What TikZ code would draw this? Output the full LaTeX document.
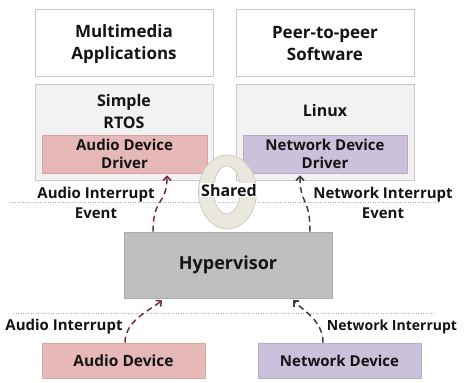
\documentclass[tikz,border=0pt]{standalone}
\usepackage{fontspec}
\setmainfont{Open Sans}
\usetikzlibrary{arrows.meta,shadows,calc}
\definecolor{boxline}{HTML}{C8C8C8}
\definecolor{osfill}{HTML}{F2F2F2}
\definecolor{pinkfill}{HTML}{E6B9B8}
\definecolor{pinkline}{HTML}{D9A3A2}
\definecolor{lavfill}{HTML}{CCC1DA}
\definecolor{lavline}{HTML}{B8ABC9}
\definecolor{hypfill}{HTML}{BFBFBF}
\definecolor{audarrow}{HTML}{7A2C3C}
\definecolor{netarrow}{HTML}{3E3E4C}
\definecolor{dotline}{HTML}{A4AECA}
\definecolor{ringfill}{HTML}{EAE8DE}
\definecolor{ringline}{HTML}{CFCCC0}
\tikzset{
  txt/.style={font=\bfseries\fontsize{15}{18}\selectfont, align=center, inner sep=0pt, text=black!92},
  apptxt/.style={txt, font=\bfseries\fontsize{17}{22}\selectfont},
  ostxt/.style={txt, font=\bfseries\fontsize{16}{22}\selectfont},
  labtxt/.style={txt, font=\bfseries\fontsize{15}{20}\selectfont},
  boxbase/.style={draw=boxline, line width=0.8pt, inner sep=0pt,
     drop shadow={shadow xshift=0.8pt, shadow yshift=-1.2pt, opacity=0.25, fill=black}},
  appbox/.style={boxbase, fill=white, minimum width=178pt, minimum height=67pt},
  osbox/.style={boxbase, fill=osfill, minimum width=178pt, minimum height=96pt},
  drvpink/.style={boxbase, draw=pinkline, fill=pinkfill, minimum width=165pt, minimum height=38pt},
  drvlav/.style={boxbase, draw=lavline, fill=lavfill, minimum width=164pt, minimum height=38pt},
  hypbox/.style={fill=hypfill, draw=hypfill!90!black, line width=0.6pt, minimum width=208pt, minimum height=66pt,
     drop shadow={shadow xshift=0.8pt, shadow yshift=-1.2pt, opacity=0.25, fill=black}},
  devpink/.style={boxbase, draw=pinkline, fill=pinkfill, minimum width=163pt, minimum height=35pt},
  devlav/.style={boxbase, draw=lavline, fill=lavfill, minimum width=163pt, minimum height=35pt},
  audarr/.style={draw=audarrow, line width=1.5pt, dash pattern=on 6pt off 4pt, -{Straight Barb[length=4pt,width=8pt]}},
  netarr/.style={audarr, draw=netarrow},
  sep/.style={draw=dotline, line width=0.9pt, dash pattern=on 1pt off 1.5pt}
}
\begin{document}
\begin{tikzpicture}[x=1pt,y=-1pt]
\useasboundingbox (0,0) rectangle (464,383);
% separators
\draw[sep] (10,202) coordinate (s1a) -- (440,202) coordinate (s1b);
\draw[sep] (13,313) coordinate (s2a) -- (434,313) coordinate (s2b);
% top boxes
\node[appbox] (app1) at (124,42.5) {};
\node[apptxt] (app1t) at (124,44) {Multimedia\\Applications};
\node[appbox] (app2) at (325,42.5) {};
\node[apptxt] (app2t) at (325,44) {Peer-to-peer\\Software};
% OS boxes
\node[osbox] (os1) at (124,132) {};
\node[ostxt] (os1t) at (124,111) {Simple\\RTOS};
\node[osbox] (os2) at (325,132) {};
\node[ostxt] (os2t) at (325,110) {Linux};
\node[drvpink, txt] (drv1) at (124.5,154) {Audio Device\\Driver};
\node[drvlav, txt] (drv2) at (325,154) {Network Device\\Driver};
% hypervisor
\node[hypbox, txt, font=\bfseries\fontsize{18}{20}\selectfont] (hyp) at (228,265) {Hypervisor};
% devices
\node[devpink, txt, font=\bfseries\fontsize{15.5}{18}\selectfont] (dev1) at (123.5,360.5) {Audio Device};
\node[devlav, txt] (dev2) at (339.5,360.5) {Network Device};
% shared ring
\path[fill=ringfill, draw=ringline, line width=0.8pt, even odd rule]
  (227.5,192) ellipse [x radius=29, y radius=37]
  (227,190) ellipse [x radius=13.5, y radius=24];
\node[txt, font=\bfseries\fontsize{16}{18}\selectfont, fill=white, inner xsep=1.5pt, inner ysep=1pt] (shared) at (229,190) {Shared};
% labels
\node[labtxt] (l1) at (96,203) {Audio Interrupt\\Event};
\node[labtxt] (l2) at (383,203) {Network Interrupt\\Event};
\node[labtxt] (l3) at (64,327) {Audio Interrupt};
\node[labtxt, font=\bfseries\fontsize{14}{18}\selectfont] (l4) at (392,327) {Network Interrupt};
% arrows
\draw[audarr] ([xshift=-75pt]hyp.north) .. controls +(0,-35) and +(0,30) .. ([xshift=42.5pt,yshift=-2pt]drv1.south);
\draw[netarr] ([xshift=82pt]hyp.north) .. controls +(0,-35) and +(0,30) .. ([xshift=-25pt,yshift=-2pt]drv2.south);
\draw[audarr] ([xshift=1.5pt]dev1.north) .. controls +(0,-22) and +(-12,10) .. ([xshift=-66pt,yshift=-2pt]hyp.south);
\draw[netarr] ([xshift=-16.5pt]dev2.north) .. controls +(0,-22) and +(10,10) .. ([xshift=65pt,yshift=-2pt]hyp.south);
\end{tikzpicture}
\end{document}
